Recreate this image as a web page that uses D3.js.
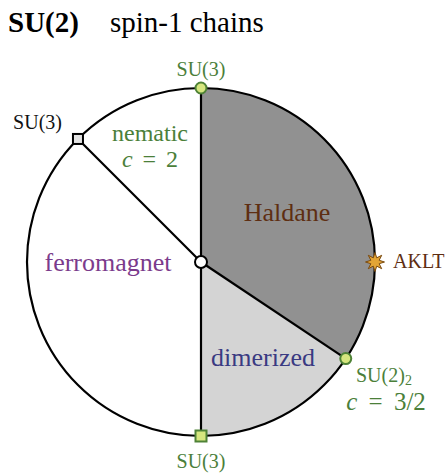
<!DOCTYPE html>
<html>
<head>
<meta charset="utf-8">
<script src="https://cdn.jsdelivr.net/npm/d3@7"></script>
<style>
  body { margin: 0; background: #fff; }
  svg text { font-family: "Liberation Serif", "DejaVu Serif", serif; }
</style>
</head>
<body>
<svg id="chart" width="448" height="476"></svg>
<script>
// phase sectors, angles in degrees (0 = right, counter-clockwise positive)
const phaseNames = ["Haldane", "dimerized", "ferromagnet", "nematic"];
const phaseFrom = [90, -33.7, -90, -225];
const phaseTo = [-33.7, -90, -225, -270];
const phaseFill = ["#919191", "#d4d4d4", "#ffffff", "#ffffff"];

// phase transition lines from the centre
const borderAngles = [90, 135, -90, -33.7];

// special points on the circle
const pointNames = ["SU(3)", "SU(3)", "SU(3)", "SU(2)2", "AKLT"];
const pointAngles = [90, 135, -90, -33.7, 0];
const pointShapes = ["circle", "square", "square", "circle", "star"];

const svg = d3.select("#chart");
const cx = 201, cy = 262, R = 174;

// degrees -> d3 arc angle (radians, from 12 o'clock, clockwise)
const toArc = d3.scaleLinear().domain([90, -270]).range([0, 2 * Math.PI]);
const px = a => cx + R * Math.cos(a * Math.PI / 180);
const py = a => cy - R * Math.sin(a * Math.PI / 180);

const arc = d3.arc().innerRadius(0).outerRadius(R);
const g = svg.append("g").attr("transform", `translate(${cx},${cy})`);

g.selectAll("path.phase")
  .data(phaseNames)
  .enter()
  .append("path")
  .attr("class", "phase")
  .attr("d", (d, i) => arc({ startAngle: toArc(phaseFrom[i]), endAngle: toArc(phaseTo[i]) }))
  .attr("fill", (d, i) => phaseFill[i]);

// outline
g.append("circle").attr("r", R).attr("fill", "none").attr("stroke", "#000").attr("stroke-width", 2.2);

svg.selectAll("line.border")
  .data(borderAngles)
  .enter()
  .append("line")
  .attr("x1", cx).attr("y1", cy)
  .attr("x2", d => px(d)).attr("y2", d => py(d))
  .attr("stroke", "#000").attr("stroke-width", 2.2);

// centre
svg.append("circle").attr("cx", cx).attr("cy", cy).attr("r", 6)
  .attr("fill", "#fff").attr("stroke", "#000").attr("stroke-width", 2);

// markers
pointNames.forEach((name, i) => {
  let a = pointAngles[i], x = px(a), y = py(a);
  let shape = pointShapes[i];
  if (shape === "circle") {
    svg.append("circle").attr("cx", x).attr("cy", y).attr("r", 5.5)
      .attr("fill", "#d6e67e").attr("stroke", "#4e8236").attr("stroke-width", 2);
  } else if (shape === "square") {
    let s = i === 1 ? 10 : 11;
    let green = i === 2;
    svg.append("rect").attr("x", x - s / 2).attr("y", y - s / 2).attr("width", s).attr("height", s)
      .attr("fill", green ? "#d6e67e" : "#e3e3e3")
      .attr("stroke", green ? "#4e8236" : "#000").attr("stroke-width", 2);
  } else {
    // 8-point star
    let pts = d3.range(16).map(k => {
      let r = k % 2 ? 4.5 : 9.5, t = k * Math.PI / 8;
      return [x + r * Math.cos(t), y + r * Math.sin(t)];
    });
    svg.append("path").attr("d", d3.line()(pts) + "Z")
      .attr("fill", "#e3a535").attr("stroke", "#7a4a10").attr("stroke-width", 1);
  }
});

// title
svg.append("text").attr("x", 8).attr("y", 32).attr("font-size", 29).attr("font-weight", "bold").text("SU(2)");
svg.append("text").attr("x", 110).attr("y", 32).attr("font-size", 29).text("spin-1 chains");

const green = "#4b7f3a";
function label(x, y, txt, size, color, anchor) {
  return svg.append("text").attr("x", x).attr("y", y).attr("font-size", size)
    .attr("fill", color).attr("text-anchor", anchor || "middle").text(txt);
}

label(201, 76, "SU(3)", 20, green);
label(62, 129, "SU(3)", 20, "#111", "end");
label(201, 468, "SU(3)", 20, green);
label(393, 268, "AKLT", 20, "#5e2e12", "start");

// SU(2)_2 with subscript
let su22 = label(356, 382, "SU(2)", 20, green, "start");
su22.append("tspan").attr("font-size", 14).attr("dy", 3).text("2");

label(150, 141, "nematic", 24, green);
let c2 = label(150, 167, "", 24, green).attr("word-spacing", 4);
c2.append("tspan").attr("font-style", "italic").text("c");
c2.append("tspan").text(" = 2");

let c32 = label(386, 410, "", 25, green).attr("word-spacing", 5);
c32.append("tspan").attr("font-style", "italic").text("c");
c32.append("tspan").text(" = 3/2");

label(287, 221, "Haldane", 26, "#5e2e12");
label(108, 271, "ferromagnet", 26, "#7b3b8c");
label(263, 366, "dimerized", 26, "#3a3a82");
</script>
</body>
</html>
